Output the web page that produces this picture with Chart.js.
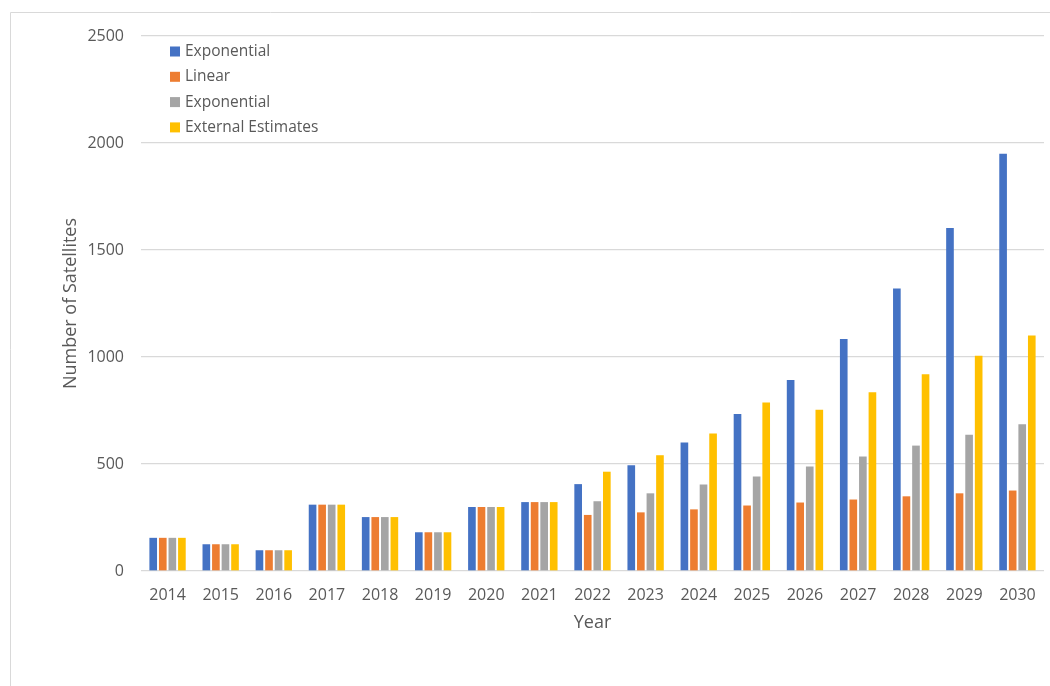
<!DOCTYPE html>
<html>
<head>
<meta charset="utf-8">
<script src="https://cdn.jsdelivr.net/npm/chart.js@4.4.1/dist/chart.umd.min.js"></script>
<style>
    html, body { margin: 0; padding: 0; background: #ffffff; }
    #wrap { position: relative; width: 1050px; height: 686px; }
</style>
</head>
<body>
<div id="wrap"><canvas id="satChart" width="1050" height="686"></canvas></div>
<script>
// Années et séries
const years = ['2014', '2015', '2016', '2017', '2018', '2019', '2020', '2021', '2022',
    '2023', '2024', '2025', '2026', '2027', '2028', '2029', '2030'];
const exponential = [155, 125, 97, 310, 252, 181, 299, 322, 406, 494, 601, 734, 893, 1084, 1320, 1603, 1950];
const linear = [155, 125, 97, 310, 252, 181, 299, 322, 262, 274, 288, 306, 320, 334, 349, 363, 376];
const exponentialLow = [155, 125, 97, 310, 252, 181, 299, 322, 326, 363, 404, 442, 488, 535, 586, 637, 686];
const externalEstimates = [155, 125, 97, 310, 252, 181, 299, 322, 464, 541, 643, 787, 754, 835, 919, 1006, 1100];
const yTicks = [0, 500, 1000, 1500, 2000, 2500];

const textColor = '#595959';
const gridColor = '#d9d9d9';
const fontFamily = "'Open Sans', 'Liberation Sans', sans-serif";

// Cadre gris autour du graphique
const framePlugin = {
    id: 'frame',
    beforeDraw(chart) {
        const ctx = chart.ctx;
        ctx.save();
        ctx.strokeStyle = gridColor;
        ctx.lineWidth = 1;
        ctx.beginPath();
        ctx.moveTo(10.5, chart.height);
        ctx.lineTo(10.5, 12.5);
        ctx.lineTo(chart.width, 12.5);
        ctx.stroke();
        ctx.restore();
    }
};

// Légende dessinée dans la zone du graphique
const insideLegend = {
    id: 'insideLegend',
    afterDraw(chart) {
        const ctx = chart.ctx;
        const area = chart.chartArea;
        ctx.save();
        ctx.font = '15.5px ' + fontFamily;
        ctx.textBaseline = 'middle';
        ctx.textAlign = 'left';
        chart.data.datasets.forEach((ds, i) => {
            const y = area.top + 15.5 + i * 25.3;
            const x = area.left + 29;
            ctx.fillStyle = ds.backgroundColor;
            ctx.fillRect(x, y - 5, 10, 10);
            ctx.fillStyle = textColor;
            ctx.fillText(ds.label, x + 15, y);
        });
        ctx.restore();
    }
};

const ctx = document.getElementById('satChart').getContext('2d');

const barOpts = {
    categoryPercentage: 0.72,
    barPercentage: 0.8
};

new Chart(ctx, {
    type: 'bar',
    data: {
        labels: years,
        datasets: [
            { label: 'Exponential', data: exponential, backgroundColor: '#4472c4', ...barOpts },
            { label: 'Linear', data: linear, backgroundColor: '#ed7d31', ...barOpts },
            { label: 'Exponential', data: exponentialLow, backgroundColor: '#a5a5a5', ...barOpts },
            { label: 'External Estimates', data: externalEstimates, backgroundColor: '#ffc000', ...barOpts }
        ]
    },
    options: {
        responsive: false,
        animation: false,
        layout: {
            padding: { left: 0, top: 36, right: 6, bottom: 0 }
        },
        plugins: {
            legend: { display: false },
            tooltip: { enabled: false }
        },
        scales: {
            x: {
                grid: { display: false },
                border: { display: false },
                ticks: {
                    color: textColor,
                    padding: 7,
                    font: { family: fontFamily, size: 16 }
                },
                title: {
                    display: true,
                    text: 'Year',
                    color: textColor,
                    font: { family: fontFamily, size: 18 },
                    padding: { top: 0, bottom: 52 }
                },
                afterFit(scale) {
                    scale.height = 115;
                }
            },
            y: {
                min: 0,
                max: 2500,
                afterBuildTicks(scale) {
                    scale.ticks = yTicks.map(v => ({ value: v }));
                },
                grid: {
                    color: gridColor,
                    lineWidth: 1.3,
                    drawTicks: false
                },
                border: { display: false },
                ticks: {
                    color: textColor,
                    padding: 17,
                    font: { family: fontFamily, size: 16 },
                    callback: (value) => String(value)
                },
                title: {
                    display: true,
                    text: 'Number of Satellites',
                    color: textColor,
                    font: { family: fontFamily, size: 18 },
                    padding: { top: 60, bottom: 0 }
                },
                afterFit(scale) {
                    scale.width = 141;
                }
            }
        }
    },
    plugins: [framePlugin, insideLegend]
});
</script>
</body>
</html>
